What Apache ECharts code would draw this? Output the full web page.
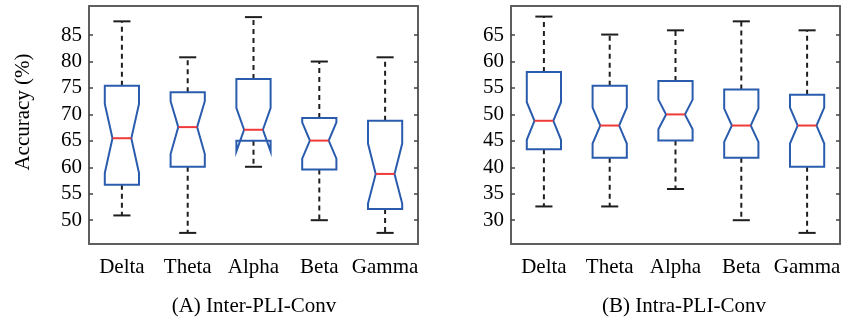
<!DOCTYPE html>
<html>
<head>
    <meta charset="utf-8">
    <title>Inter/Intra PLI-Conv accuracy</title>
    <script src="https://cdn.jsdelivr.net/npm/echarts@6/dist/echarts.min.js"></script>
    <style>
        body, html { margin: 0; padding: 0; background: #fff; }
        #main { width: 846px; height: 321px; }
    </style>
</head>
<body>
    <div id="main"></div>
    <script>
        // frequency bands
        const categories = ['Delta', 'Theta', 'Alpha', 'Beta', 'Gamma'];

        // (A) Inter-PLI-Conv
        const interLower   = [50.9, 47.6, 60.1, 50.0, 47.6];
        const interQ1      = [56.7, 60.1, 65.0, 59.6, 52.1];
        const interMedian  = [65.5, 67.6, 67.1, 65.05, 58.75];
        const interQ3      = [75.4, 74.2, 76.7, 69.3, 68.8];
        const interUpper   = [87.6, 80.8, 88.4, 80.0, 80.8];
        const interNotchLo = [58.9, 62.5, 63.0, 61.65, 53.15];
        const interNotchHi = [72.0, 72.5, 71.2, 68.5, 64.5];

        // (B) Intra-PLI-Conv
        const intraLower   = [32.6, 32.6, 35.9, 30.0, 27.6];
        const intraQ1      = [43.4, 41.8, 45.05, 41.8, 40.1];
        const intraMedian  = [48.8, 47.9, 50.0, 47.9, 47.9];
        const intraQ3      = [58.0, 55.4, 56.3, 54.7, 53.7];
        const intraUpper   = [68.5, 65.1, 65.9, 67.6, 65.9];
        const intraNotchLo = [45.2, 44.5, 47.2, 44.8, 44.5];
        const intraNotchHi = [52.3, 51.3, 52.8, 51.1, 51.3];

        const interTicks = [50, 55, 60, 65, 70, 75, 80, 85];
        const intraTicks = [30, 35, 40, 45, 50, 55, 60, 65];

        const FONT = 'Liberation Serif';
        const frameStyle = { color: '#5e5e5e', width: 2 };
        const boxColor = '#2a5cae';

        function rows(lo, q1, med, q3, up, nlo, nhi) {
            return categories.map((c, i) => [i, lo[i], q1[i], med[i], q3[i], up[i], nlo[i], nhi[i]]);
        }

        function renderNotchBox(params, api) {
            const i = api.value(0);
            const band = api.size([1, 0])[0];
            const w = band * 0.26, nw = w * 0.55, cw = w * 0.5;
            const x = api.coord([i, 0])[0];
            const y = v => api.coord([i, v])[1];
            const lo = y(api.value(1)), q1 = y(api.value(2)), med = y(api.value(3));
            const q3 = y(api.value(4)), up = y(api.value(5));
            const nlo = y(api.value(6)), nhi = y(api.value(7));
            const dash = { stroke: '#1e1e1e', lineWidth: 2, lineDash: [5, 4] };
            const solid = { stroke: '#1e1e1e', lineWidth: 2 };
            return {
                type: 'group',
                children: [
                    { type: 'line', shape: { x1: x, y1: q3, x2: x, y2: up }, style: dash },
                    { type: 'line', shape: { x1: x, y1: q1, x2: x, y2: lo }, style: dash },
                    { type: 'line', shape: { x1: x - cw, y1: up, x2: x + cw, y2: up }, style: solid },
                    { type: 'line', shape: { x1: x - cw, y1: lo, x2: x + cw, y2: lo }, style: solid },
                    {
                        type: 'polygon',
                        shape: { points: [
                            [x - w, q1], [x - w, nlo], [x - nw, med], [x - w, nhi], [x - w, q3],
                            [x + w, q3], [x + w, nhi], [x + nw, med], [x + w, nlo], [x + w, q1]
                        ] },
                        style: { fill: 'none', stroke: boxColor, lineWidth: 2, lineJoin: 'miter' }
                    },
                    { type: 'line', shape: { x1: x - nw, y1: med, x2: x + nw, y2: med },
                      style: { stroke: '#f03a3a', lineWidth: 2 } }
                ]
            };
        }

        function xAxes(g) {
            return [
                {
                    gridIndex: g, type: 'category', data: categories, position: 'bottom',
                    axisLine: { lineStyle: frameStyle },
                    axisTick: { inside: true, alignWithLabel: true, length: 4, lineStyle: { color: '#444', width: 1.5 } },
                    axisLabel: { interval: 0, hideOverlap: false, color: '#000', fontFamily: FONT, fontSize: 21, margin: 13 }
                },
                {
                    gridIndex: g, type: 'category', data: categories, position: 'top',
                    axisLine: { lineStyle: frameStyle },
                    axisTick: { inside: true, alignWithLabel: true, interval: 0, length: 4, lineStyle: { color: '#444', width: 1.5 } },
                    axisLabel: { show: false, interval: 0 }
                }
            ];
        }

        function yAxes(g, min, max, ticks) {
            return [
                {
                    gridIndex: g, type: 'value', min: min, max: max, position: 'left',
                    splitLine: { show: false },
                    axisLine: { show: true, lineStyle: frameStyle },
                    axisTick: { show: true, inside: true, length: 4, customValues: ticks, lineStyle: { color: '#444', width: 1.5 } },
                    axisLabel: { customValues: ticks, color: '#000', fontFamily: FONT, fontSize: 21, margin: 7 }
                },
                {
                    gridIndex: g, type: 'value', min: min, max: max, position: 'right',
                    splitLine: { show: false },
                    axisLine: { show: true, lineStyle: frameStyle },
                    axisTick: { show: true, inside: true, length: 4, customValues: ticks, lineStyle: { color: '#444', width: 1.5 } },
                    axisLabel: { show: false }
                }
            ];
        }

        const chart = echarts.init(document.getElementById('main'));
        chart.setOption({
            backgroundColor: '#fff',
            animation: false,
            grid: [
                { left: 89, width: 329, top: 6, height: 238 },
                { left: 511, width: 329, top: 6, height: 238 }
            ],
            xAxis: xAxes(0).concat(xAxes(1)),
            yAxis: yAxes(0, 45.5, 90.5, interTicks).concat(yAxes(1, 25.5, 70.5, intraTicks)),
            series: [
                {
                    type: 'custom', xAxisIndex: 0, yAxisIndex: 0,
                    renderItem: renderNotchBox,
                    data: rows(interLower, interQ1, interMedian, interQ3, interUpper, interNotchLo, interNotchHi)
                },
                {
                    type: 'custom', xAxisIndex: 2, yAxisIndex: 2,
                    renderItem: renderNotchBox,
                    data: rows(intraLower, intraQ1, intraMedian, intraQ3, intraUpper, intraNotchLo, intraNotchHi)
                }
            ],
            graphic: [
                {
                    type: 'text', x: 23, y: 112, rotation: Math.PI / 2,
                    style: { text: 'Accuracy (%)', fill: '#000', font: '21px "Liberation Serif"',
                             textAlign: 'center', textVerticalAlign: 'middle' }
                },
                {
                    type: 'text', x: 254, y: 306,
                    style: { text: '(A) Inter-PLI-Conv', fill: '#000', font: '21px "Liberation Serif"',
                             textAlign: 'center', textVerticalAlign: 'middle' }
                },
                {
                    type: 'text', x: 684, y: 306,
                    style: { text: '(B) Intra-PLI-Conv', fill: '#000', font: '21px "Liberation Serif"',
                             textAlign: 'center', textVerticalAlign: 'middle' }
                }
            ]
        });
    </script>
</body>
</html>
